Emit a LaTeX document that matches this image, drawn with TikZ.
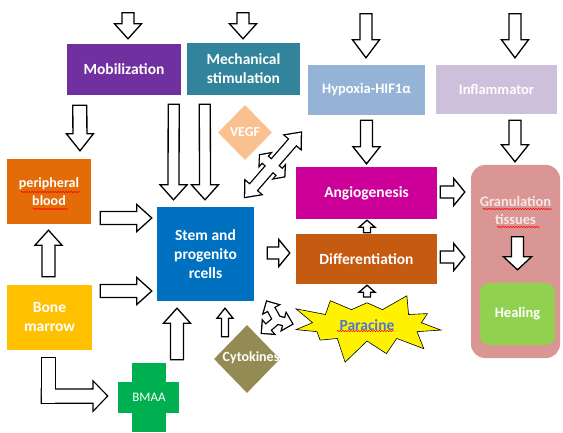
\documentclass[tikz,border=0pt]{standalone}
\usepackage{fontspec}
\setmainfont{Carlito}
\usetikzlibrary{calc,shapes.geometric,shapes.symbols,decorations.pathmorphing}

\definecolor{mobpurple}{HTML}{7030A0}
\definecolor{mechteal}{HTML}{31849B}
\definecolor{hypblue}{HTML}{95B3D7}
\definecolor{infllilac}{HTML}{CCC0DA}
\definecolor{pborange}{HTML}{E36C09}
\definecolor{bmyellow}{HTML}{FFC000}
\definecolor{stemblue}{HTML}{0070C0}
\definecolor{angmagenta}{HTML}{CC0099}
\definecolor{diffbrown}{HTML}{C55A11}
\definecolor{granpink}{HTML}{D99694}
\definecolor{grantext}{HTML}{F7E6E5}
\definecolor{healgreen}{HTML}{92D050}
\definecolor{vegfpeach}{HTML}{FAC090}
\definecolor{cytoolive}{HTML}{948A54}
\definecolor{bmaagreen}{HTML}{00B050}
\definecolor{parablue}{HTML}{5374D6}

% block arrow: [opts]{from}{tip}{half shaft}{half head}{head length}
\newcommand{\blockarrow}[6][]{%
  \coordinate (ba-s) at (#2);
  \coordinate (ba-t) at (#3);
  \coordinate (ba-h) at ($(ba-t)!#6!(ba-s)$);
  \draw[blk,#1] ($(ba-s)!#4!90:(ba-t)$) -- ($(ba-h)!#4!90:(ba-t)$)
    -- ($(ba-h)!#5!90:(ba-t)$) -- (ba-t) -- ($(ba-h)!#5!-90:(ba-t)$)
    -- ($(ba-h)!#4!-90:(ba-t)$) -- ($(ba-s)!#4!-90:(ba-t)$) -- cycle;
}
% same, with a head at both ends
\newcommand{\doublearrow}[6][]{%
  \coordinate (ba-s) at (#2);
  \coordinate (ba-t) at (#3);
  \coordinate (ba-g) at ($(ba-s)!#6!(ba-t)$);
  \coordinate (ba-h) at ($(ba-t)!#6!(ba-s)$);
  \draw[blk,#1] (ba-s) -- ($(ba-g)!#5!90:(ba-t)$) -- ($(ba-g)!#4!90:(ba-t)$)
    -- ($(ba-h)!#4!90:(ba-t)$) -- ($(ba-h)!#5!90:(ba-t)$) -- (ba-t)
    -- ($(ba-h)!#5!-90:(ba-t)$) -- ($(ba-h)!#4!-90:(ba-t)$)
    -- ($(ba-g)!#4!-90:(ba-t)$) -- ($(ba-g)!#5!-90:(ba-t)$) -- cycle;
}

\begin{document}
\begin{tikzpicture}[
  x=1pt, y=-1pt,
  box/.style 2 args={minimum width=#1pt, minimum height=#2pt, inner sep=0pt,
    align=center, text=white, font=\fontsize{15.5}{19}\selectfont\bfseries},
  blk/.style={draw=black, fill=white, line width=1.3pt, line join=miter},
  blkout/.style={line width=2.6pt},
  blkin/.style={draw=none},
  squiggle/.style={draw=red, line width=0.5pt,
    decorate, decoration={snake, amplitude=0.7pt, segment length=2.6pt}}
]
  \useasboundingbox (0,0) rectangle (563,433);

  % boxes
  \node[box={114}{51}, fill=mobpurple]  (mob)  at (124,69.5)   {Mobilization};
  \node[box={113}{52}, fill=mechteal]   (mech) at (243.5,69)   {Mechanical\\stimulation};
  \node[box={117}{50}, fill=hypblue, font=\fontsize{14.5}{17}\selectfont\bfseries]
      (hyp) at (366.5,90) {Hypoxia-HIF1α};
  \node[box={121}{49}, fill=infllilac, font=\fontsize{14.5}{17}\selectfont\bfseries]
      (infl) at (496.5,89.5) {Inflammator};
  \node[box={84}{65}, fill=pborange, font=\fontsize{14}{18}\selectfont\bfseries]
      (pb) at (49,191.5) {peripheral\\blood};
  \node[box={85}{65}, fill=bmyellow]    (bm)   at (49.5,317.5) {Bone\\marrow};
  \node[box={97}{94}, fill=stemblue]    (stem) at (205.5,254)  {Stem and\\progenito\\rcells};
  \node[box={141}{52}, fill=angmagenta] (ang)  at (366.5,193)  {Angiogenesis};
  \node[box={141}{50}, fill=diffbrown]  (diff) at (366.5,259)  {Differentiation};
  \node[box={89}{193}, fill=granpink, rounded corners=14pt] (gran) at (515.5,261.5) {};
  \node[box={75}{62}, fill=healgreen, rounded corners=9pt, font=\fontsize{14.5}{17}\selectfont\bfseries]
      (heal) at (517.5,314) {Healing};
  \node[text=grantext, align=center, inner sep=0pt, font=\fontsize{14.5}{18}\selectfont\bfseries]
      (grantxt) at (515.5,210) {Granulation\\tissues};

  % diamonds, burst, cross
  \node[diamond, aspect=1, box={54}{55}, fill=vegfpeach, font=\fontsize{13.8}{16}\selectfont\bfseries]
      (vegf) at (245,132.5) {VEGF};
  \node[diamond, aspect=1, box={66}{68}, fill=cytoolive] (cyto) at (247,359) {};
  \node[text=white, inner sep=0pt, font=\fontsize{14}{16}\selectfont\bfseries] (cytotxt) at (251,358) {Cytokines};
  \node[starburst, starburst points=11, starburst point height=24pt, random starburst=23,
      minimum width=158pt, minimum height=80pt, draw=black, line width=0.6pt, fill=yellow,
      text=parablue, font=\fontsize{15.5}{18}\selectfont\bfseries] (para) at (367,325) {Paracine};
  \path[fill=bmaagreen] (118,381.5) rectangle (179,413);
  \node[box={32}{69}, fill=bmaagreen, font=\fontsize{13}{15}\selectfont] (bmaa) at (149,397.5) {BMAA};

  % spelling marks
  \draw[squiggle] ($(pb)+(-28,0.5)$) -- ($(pb)+(31,0.5)$);
  \draw[squiggle] ($(pb)+(-16,17.5)$) -- ($(pb)+(19,17.5)$);
  \draw[squiggle] ($(grantxt)+(-32.5,-1)$) -- ($(grantxt)+(36.5,-1)$);
  \draw[squiggle] ($(grantxt)+(-18.5,17)$) -- ($(grantxt)+(24.5,17)$);
  \draw[squiggle] ($(para)+(-30,6)$) -- ($(para)+(27,6)$);

  % arrows from the top
  \blockarrow{$(mob.north)+(4,-31)$}{$(mob.north)+(4,-5)$}{6pt}{13.5pt}{15pt}
  \blockarrow{$(mech.north)+(-0.5,-30)$}{$(mech.north)+(-0.5,-4)$}{6pt}{13.5pt}{15pt}
  \blockarrow{$(hyp.north)+(-0.5,-51)$}{$(hyp.north)+(-0.5,-7)$}{6pt}{13.5pt}{18pt}
  \blockarrow{$(infl.north)+(18.5,-51)$}{$(infl.north)+(18.5,-7)$}{6pt}{13.5pt}{18pt}

  % into the cells
  \blockarrow{$(mob.south west)+(13,10)$}{$(pb.north)+(31,-8)$}{7pt}{13.5pt}{17pt}
  \blockarrow{$(mob.south east)+(-7.5,9)$}{$(stem.north)+(-32,-7)$}{5.5pt}{13.5pt}{15pt}
  \blockarrow{$(mech.south west)+(18,9)$}{$(stem.north)+(-0.5,-7)$}{5.5pt}{13.5pt}{15pt}
  \blockarrow{$(pb.east)+(9,26.5)$}{$(stem.west)+(-5,-36)$}{6.5pt}{13.5pt}{15pt}
  \blockarrow{$(bm.east)+(8,-26.5)$}{$(stem.west)+(-5,37)$}{6.5pt}{13.5pt}{15pt}
  \blockarrow{$(bm.north)+(-1,-8)$}{$(pb.south)+(-0.5,6)$}{6.5pt}{13.5pt}{15pt}
  \blockarrow{$(bmaa.north)+(28,-3)$}{$(stem.south)+(-28.5,7)$}{6.5pt}{13.5pt}{15pt}
  \blockarrow{$(cyto.north)+(-22,12)$}{$(stem.south)+(19.5,7)$}{3.5pt}{8pt}{10pt}

  % bone marrow to BMAA
  \draw[blk, blkout] ($(bm.south)+(-7.5,8)$) rectangle ($(bm.south)+(5.5,52.5)$);
  \blockarrow[blkout]{$(bm.south)+(-7.5,46)$}{$(bmaa.west)+(-25.5,-1.5)$}{6.5pt}{13.5pt}{13pt}
  \draw[blk, blkin] ($(bm.south)+(-7.5,8)$) rectangle ($(bm.south)+(5.5,52.5)$);
  \blockarrow[blkin]{$(bm.south)+(-7.5,46)$}{$(bmaa.west)+(-25.5,-1.5)$}{6.5pt}{13.5pt}{13pt}

  % towards healing
  \blockarrow{$(hyp.south)+(0,5)$}{$(ang.north)+(0,-3)$}{6pt}{13.5pt}{17pt}
  \blockarrow{$(infl.south)+(18.5,6)$}{$(gran.north)+(-0.5,-3)$}{6pt}{13.5pt}{17pt}
  \blockarrow{$(stem.east)+(13,-1)$}{$(diff.west)+(-6,-6)$}{6pt}{13.5pt}{11pt}
  \blockarrow{$(ang.east)+(3,-1)$}{$(gran.west)+(-6,-69.5)$}{6pt}{13.5pt}{11pt}
  \blockarrow{$(diff.east)+(3,-2)$}{$(gran.west)+(-6,-4.5)$}{6pt}{13.5pt}{11pt}
  \blockarrow{$(diff.north)+(0.5,-1)$}{$(ang.south)+(0.5,1)$}{3.5pt}{8pt}{7pt}
  \blockarrow{$(para)+(0,-28)$}{$(diff.south)+(0.5,1)$}{3.5pt}{8pt}{7pt}
  \blockarrow{$(heal.north)+(0,-46)$}{$(heal.north)+(0,-13)$}{6pt}{14pt}{13pt}

  % stem <-> angiogenesis, with cross bar
  \doublearrow[blkout]{$(stem.north east)+(-9,-10)$}{$(ang.north west)+(5,-34)$}{4.5pt}{10pt}{12pt}
  \doublearrow[blkout]{$(stem.north east)+(6,-51.5)$}{$(stem.north east)+(30,-30.5)$}{4pt}{7.5pt}{6pt}
  \doublearrow[blkin]{$(stem.north east)+(-9,-10)$}{$(ang.north west)+(5,-34)$}{4.5pt}{10pt}{12pt}
  \doublearrow[blkin]{$(stem.north east)+(6,-51.5)$}{$(stem.north east)+(30,-30.5)$}{4pt}{7.5pt}{6pt}

  % cytokines / paracine three-way arrow
  \coordinate (tri) at ($(cyto.north)+(30,-5)$);
  \blockarrow[blkout]{tri}{$(tri)+(-10,-18)$}{3.5pt}{8pt}{8pt}
  \blockarrow[blkout]{tri}{$(tri)+(-15,13)$}{3.5pt}{8pt}{8pt}
  \blockarrow[blkout]{tri}{$(tri)+(15,4)$}{3.5pt}{8pt}{8pt}
  \blockarrow[blkin]{tri}{$(tri)+(-10,-18)$}{3.5pt}{8pt}{8pt}
  \blockarrow[blkin]{tri}{$(tri)+(-15,13)$}{3.5pt}{8pt}{8pt}
  \blockarrow[blkin]{tri}{$(tri)+(15,4)$}{3.5pt}{8pt}{8pt}
\end{tikzpicture}
\end{document}
